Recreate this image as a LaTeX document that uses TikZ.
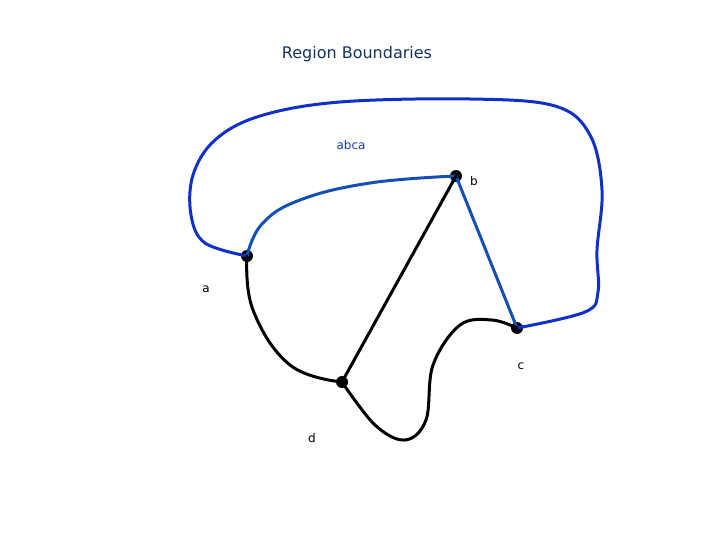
\documentclass[tikz,border=0pt]{standalone}
\usepackage{fontspec}
\setmainfont{DejaVu Sans}
\begin{document}
\begin{tikzpicture}[x=1pt,y=-1pt,
  vtx/.style={circle,fill=black,inner sep=0pt,minimum size=12pt},
  lbl/.style={font=\fontsize{12}{14}\selectfont},
  blueline/.style={line width=3pt,color={rgb,255:red,16;green,48;blue,200},line cap=round},
  blueline2/.style={line width=3pt,color={rgb,255:red,20;green,80;blue,180},line cap=round},
  blackline/.style={line width=3pt,black,line cap=round}]
\useasboundingbox (0,0) rectangle (720,540);
\node[lbl,font=\fontsize{16}{18}\selectfont,text={rgb,255:red,20;green,50;blue,100}] (t) at (357,54) {Region Boundaries};
\node[vtx] (a) at (247,256) {};
\node[vtx] (b) at (456,176) {};
\node[vtx] (c) at (517,328) {};
\node[vtx] (d) at (342,382) {};
\node[lbl,text={rgb,255:red,20;green,60;blue,180}] (abca) at (351,145) {abca};
\node[lbl] (lb) at (474,181) {b};
\node[lbl] (la) at (206,289) {a};
\node[lbl] (lc) at (521,366) {c};
\node[lbl] (ld) at (312,438) {d};
\draw[blueline] (a.center) plot[smooth,tension=0.6] coordinates {(247,256) (205,243) (191,215) (193,175) (215,140) (260,116) (340,102) (470,99) (555,106) (590,135) (602,190) (597,250) (598,292) (585,312) (517,328)};
\draw[blueline2] plot[smooth,tension=0.7] coordinates {(247,256) (262,224) (300,200) (370,183) (456,176)};
\draw[blueline2] (b.center) -- (c.center);
\draw[blackline] (b.center) -- (d.center);
\draw[blackline] plot[smooth,tension=0.7] coordinates {(247,256) (253,310) (290,365) (342,382)};
\draw[blackline] plot[smooth,tension=0.6] coordinates {(342,382) (375,425) (405,440) (426,420) (433,365) (460,325) (492,320) (517,328)};
\end{tikzpicture}
\end{document}
